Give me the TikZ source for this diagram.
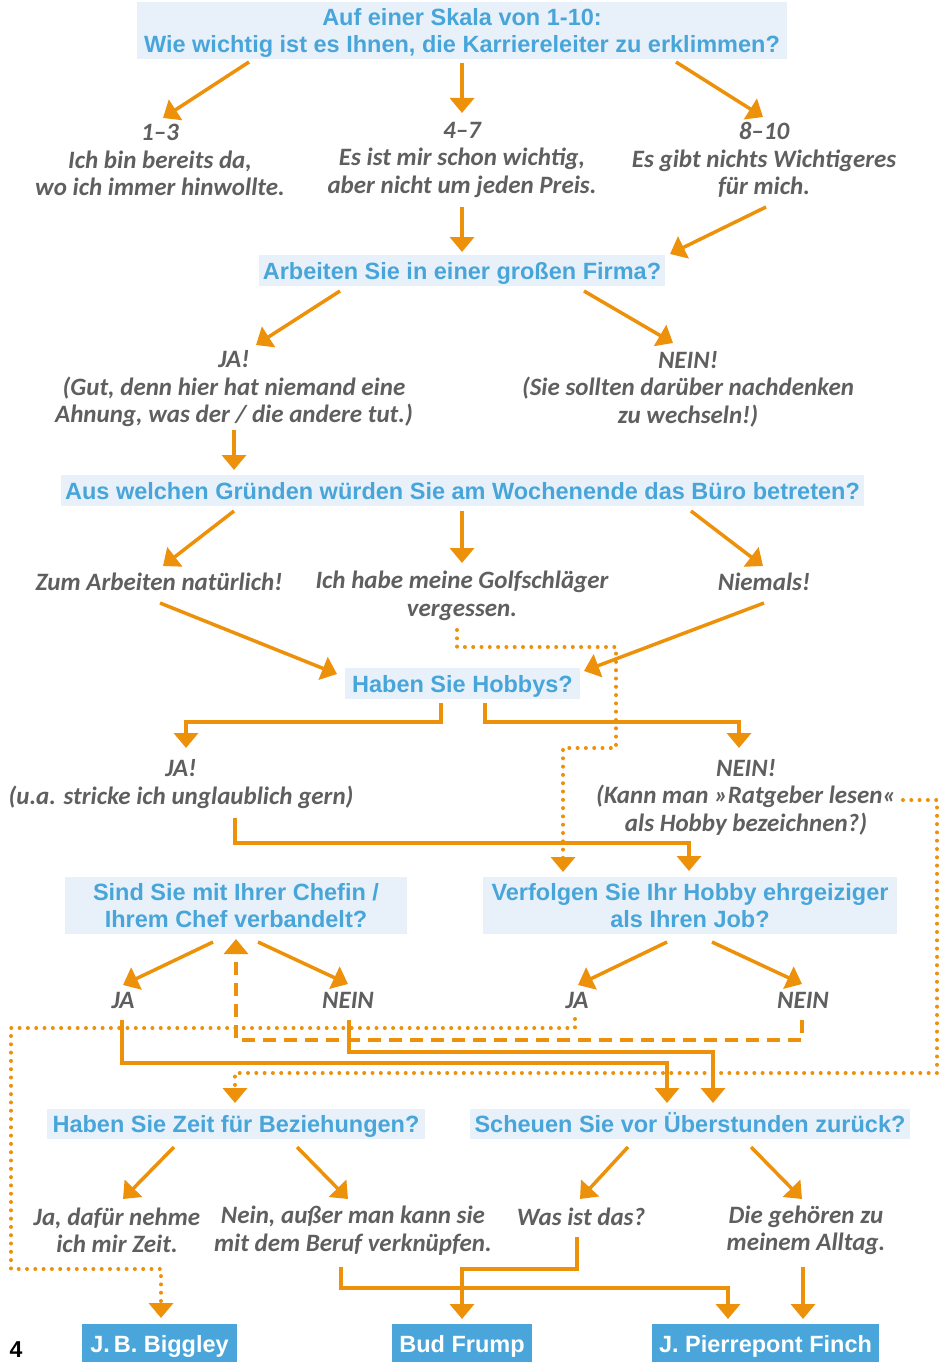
\documentclass[tikz,border=0pt]{standalone}
\usepackage{fontspec}
\setmainfont{Liberation Sans}
\newfontfamily\handfont{Carlito}
\usetikzlibrary{arrows.meta,calc}
\definecolor{org}{RGB}{237,145,10}
\definecolor{qblue}{RGB}{72,165,218}
\definecolor{qfill}{RGB}{232,241,250}
\definecolor{rblue}{RGB}{74,166,218}
\definecolor{hgrey}{RGB}{95,95,95}
\newcommand{\qstrut}{\rule[-5pt]{0pt}{27pt}}
\tikzset{
 qbox/.style={fill=qfill,text=qblue,inner sep=0pt,align=center,font=\fontsize{23.5}{27}\selectfont\bfseries},
 ans/.style={text=hgrey,inner sep=0pt,align=center,font=\handfont\bfseries\itshape\fontsize{25}{27.5}\selectfont},
 res/.style={fill=rblue,text=white,inner sep=0pt,minimum height=44pt,font=\fontsize{23.5}{27}\selectfont\bfseries},
 arr/.style={draw=org,line width=3.5pt,-{Triangle[length=15pt,width=24pt]}},
 dotarr/.style={draw=org,line width=4pt,line cap=round,dash pattern=on 0pt off 8.3pt,-{Triangle[length=15pt,width=24pt]}},
 dasharr/.style={draw=org,line width=3.4pt,dash pattern=on 13pt off 8pt,-{Triangle[length=15pt,width=24pt]}}
}
\begin{document}
\begin{tikzpicture}[x=1pt,y=-1pt]
\useasboundingbox (0,0) rectangle (941,1362);
% questions
\node[qbox,minimum width=650pt,minimum height=57pt] (q1) at (462,30.5) {\qstrut Auf einer Skala von 1-10:\\\qstrut Wie wichtig ist es Ihnen, die Karriereleiter zu erklimmen?};
\node[qbox,minimum width=406pt,minimum height=31pt] (q2) at (462,270.5) {\qstrut Arbeiten Sie in einer großen Firma?};
\node[qbox,minimum width=803pt,minimum height=31pt] (q3) at (462.5,490.5) {\qstrut Aus welchen Gründen würden Sie am Wochenende das Büro betreten?};
\node[qbox,minimum width=235pt,minimum height=31pt] (q4) at (462.5,683.5) {\qstrut Haben Sie Hobbys?};
\node[qbox,minimum width=342pt,minimum height=57pt] (q5) at (236,905.5) {\qstrut Sind Sie mit Ihrer Chefin /\\\qstrut Ihrem Chef verbandelt?};
\node[qbox,minimum width=414pt,minimum height=57pt] (q6) at (690,905.5) {\qstrut Verfolgen Sie Ihr Hobby ehrgeiziger\\\qstrut als Ihren Job?};
\node[qbox,minimum width=378pt,minimum height=30pt] (q7) at (236,1124) {\qstrut Haben Sie Zeit für Beziehungen?};
\node[qbox,minimum width=440pt,minimum height=30pt] (q8) at (690,1124) {\qstrut Scheuen Sie vor Überstunden zurück?};
% answers
\node[ans] (a1l) at (160,160) {1–3\\Ich bin bereits da,\\wo ich immer hinwollte.};
\node[ans] (a1c) at (462,160) {4–7\\Es ist mir schon wichtig,\\aber nicht um jeden Preis.};
\node[ans] (a1r) at (764,160) {8–10\\Es gibt nichts Wichtigeres\\für mich.};
\node[ans] (a2l) at (234,389) {JA!\\(Gut, denn hier hat niemand eine\\Ahnung, was der / die andere tut.)};
\node[ans] (a2r) at (688,389) {NEIN!\\(Sie sollten darüber nachdenken\\zu wechseln!)};
\node[ans] (a3l) at (159,582) {Zum Arbeiten natürlich!};
\node[ans] (a3c) at (462,596) {Ich habe meine Golfschläger\\vergessen.};
\node[ans] (a3r) at (764,582) {Niemals!};
\node[ans] (a4l) at (181,784) {JA!\\(u.a. stricke ich unglaublich gern)};
\node[ans] (a4r) at (746,797) {NEIN!\\(Kann man »Ratgeber lesen«\\als Hobby bezeichnen?)};
\node[ans] (a5l) at (123,1000) {JA};
\node[ans] (a5r) at (348,1000) {NEIN};
\node[ans] (a6l) at (577,1000) {JA};
\node[ans] (a6r) at (803,1000) {NEIN};
\node[ans] (a7l) at (117,1230.5) {Ja, dafür nehme\\ich mir Zeit.};
\node[ans] (a7r) at (353,1230.5) {Nein, außer man kann sie\\mit dem Beruf verknüpfen.};
\node[ans] (a8l) at (581,1217) {Was ist das?};
\node[ans] (a8r) at (806,1230.5) {Die gehören zu\\meinem Alltag.};
% results
\node[res,minimum width=155pt] (r1) at (159.5,1346) {J.\,B. Biggley};
\node[res,minimum width=140pt] (r2) at (462,1346) {Bud Frump};
\node[res,minimum width=227pt] (r3) at (765.5,1346) {J. Pierrepont Finch};
\node[font=\fontsize{23}{23}\selectfont\bfseries,inner sep=0pt,anchor=base] (pg) at (16,1357) {4};
% connectors
\draw[arr] ($(q1)+(-213,31.5)$) -- ($(a1l)+(3,-42)$);
\draw[arr] ($(q1)+(0,32.5)$) -- ($(a1c)+(0,-47)$);
\draw[arr] ($(q1)+(214,31.5)$) -- ($(a1r)+(-1,-43)$);
\draw[arr] ($(a1c)+(0,47)$) -- ($(q2)+(0,-18.5)$);
\draw[arr] ($(a1r)+(2,47)$) -- ($(q2)+(208,-16.5)$);
\draw[arr] ($(q2)+(-122,20.5)$) -- ($(a2l)+(22,-44)$);
\draw[arr] ($(q2)+(122,20.5)$) -- ($(a2r)+(-15,-46)$);
\draw[arr] ($(a2l)+(0,41)$) -- ($(q3)+(-228.5,-20.5)$);
\draw[arr] ($(q3)+(-228.5,20.5)$) -- ($(a3l)+(4,-16)$);
\draw[arr] ($(q3)+(-0.5,20.5)$) -- ($(a3c)+(0,-33)$);
\draw[arr] ($(q3)+(228.5,20.5)$) -- ($(a3r)+(-1,-16)$);
\draw[arr] ($(a3l)+(1,21)$) -- ($(q4)+(-125.5,-9.5)$);
\draw[arr] ($(a3r)+(0,21)$) -- ($(q4)+(121.5,-12.5)$);
\draw[dotarr] ($(a3c)+(-5,34)$) -- ++(0,17) -- ++(159,0) -- ++(0,101) -| ($(q6)+(-127,-33.5)$);
\draw[arr] ($(q4)+(-21.5,19.5)$) -- ++(0,19) -| ($(a4l)+(5,-36)$);
\draw[arr] ($(q4)+(22.5,19.5)$) -- ++(0,19) -| ($(a4r)+(-7,-49)$);
\draw[arr] ($(a4l)+(54,34)$) -- ++(0,25) -| ($(q6)+(-1,-34.5)$);
\draw[dotarr] ($(a4r)+(157,3)$) -- ++(34,0) -- ++(0,273) -| ($(q7)+(-1,-21)$);
\draw[arr] ($(q5)+(-23,36.5)$) -- ($(a5l)+(0,-15)$);
\draw[arr] ($(q5)+(22,36.5)$) -- ($(a5r)+(0,-16)$);
\draw[arr] ($(q6)+(-23,36.5)$) -- ($(a6l)+(1,-15)$);
\draw[arr] ($(q6)+(22,36.5)$) -- ($(a6r)+(-1,-16)$);
\draw[dasharr] ($(a6r)+(-1,20)$) -- ++(0,20) -| ($(q5)+(0,33.5)$);
\draw[dotarr] ($(a6l)+(-2,19)$) -- ++(0,9) -- ++(-564,0) -- ++(0,241) -| ($(r1)+(1.5,-28)$);
\draw[arr] ($(a5l)+(-1,20)$) -- ++(0,43) -| ($(q8)+(-23,-21)$);
\draw[arr] ($(a5r)+(1,20)$) -- ++(0,32) -| ($(q8)+(23,-21)$);
\draw[arr] ($(q7)+(-62,23)$) -- ($(a7l)+(6,-31.5)$);
\draw[arr] ($(q7)+(61,23)$) -- ($(a7r)+(-5,-31.5)$);
\draw[arr] ($(q8)+(-62,23)$) -- ($(a8l)+(-1,-18)$);
\draw[arr] ($(q8)+(61,23)$) -- ($(a8r)+(-4,-31.5)$);
\draw[arr] ($(a8l)+(-4,20)$) -- ++(0,32) -| ($(r2)+(0,-27)$);
\draw[arr] ($(a7r)+(-12,36.5)$) -- ++(0,21) -| ($(r3)+(-37.5,-27)$);
\draw[arr] ($(a8r)+(-3,36.5)$) -- ($(r3)+(37.5,-27)$);
\end{tikzpicture}
\end{document}
